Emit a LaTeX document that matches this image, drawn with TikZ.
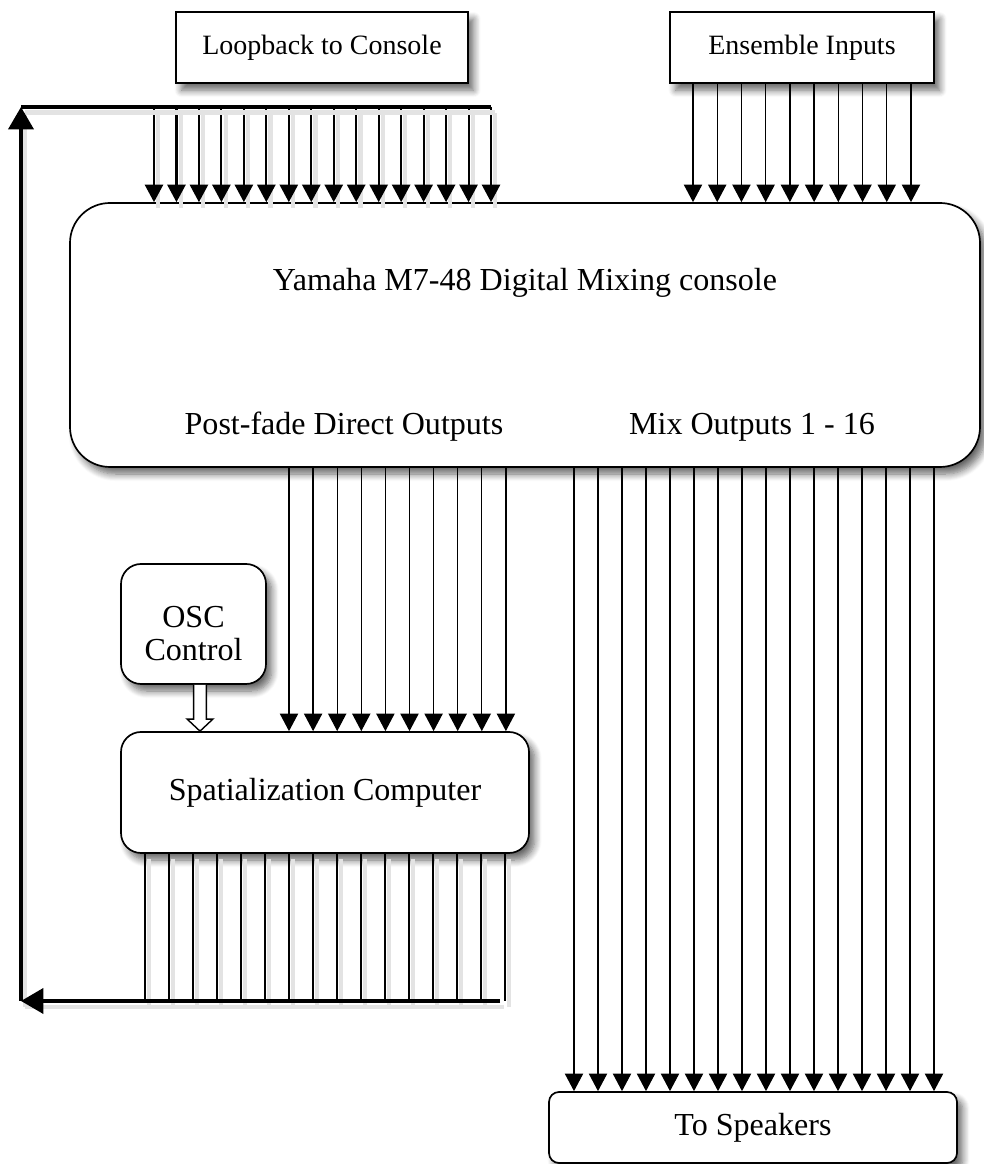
\documentclass[tikz,border=0pt]{standalone}
\usepackage{fontspec}
\setmainfont{Liberation Serif}
\usepackage{tikz}
\usetikzlibrary{arrows.meta,calc,positioning,shadows.blur}
\tikzset{
  mx diagram/.style={font=\fontsize{22.8}{23.5}\selectfont, line join=miter},
  mx box/.style={draw, fill=white, line width=1.2pt, align=center, inner sep=0pt,
    blur shadow={shadow xshift=4pt, shadow yshift=-5pt, shadow blur radius=5pt,
      shadow blur steps=8, shadow opacity=60}},
  mx small/.style={font=\fontsize{19.9}{22}\selectfont},
  mx shade/.style={preaction={draw=black!11, line width=3pt, -,
    transform canvas={xshift=3pt,yshift=-4pt}}},
  mx arrow/.style={-{Triangle[length=12.5pt,width=13pt]}, line width=0.9pt},
  mx loop arrow/.style={mx arrow, line width=1.5pt},
  mx loop line/.style={line width=1.5pt},
  mx bus/.style={line width=2.3pt},
  mx bus arrow/.style={mx bus, -{Triangle[length=16pt,width=18pt]}},
  mx hollow/.style={draw, fill=white, line width=1pt}
}
\begin{document}
\begin{tikzpicture}[mx diagram]
\useasboundingbox (0,0) rectangle (24.6,29.1);
% boxes
\node[mx box, mx small, minimum width=7.3cm, minimum height=1.775cm] (loopback) at (8.05,27.91) {Loopback to Console};
\node[mx box, mx small, minimum width=6.6cm, minimum height=1.775cm] (ensemble) at (20.05,27.91) {Ensemble Inputs};
\node[mx box, rounded corners=1cm, minimum width=22.75cm, minimum height=6.6cm] (mixer) at (13.125,20.725) {};
\node (title) at (13.125,22.025) {Yamaha M7-48 Digital Mixing console};
\node (directlbl) at (8.6,18.425) {Post-fade Direct Outputs};
\node (mixlbl) at (18.8,18.425) {Mix Outputs 1 - 16};
\node[mx box, rounded corners=0.5cm, minimum width=3.625cm, minimum height=3cm] (osc) at (4.8375,13.5) {};
\node[align=center] (osctext) at ([yshift=-0.24cm]osc.center) {OSC\\Control};
\node[mx box, rounded corners=0.5cm, minimum width=10.2cm, minimum height=3.025cm] (spat) at (8.125,9.2875) {Spatialization Computer};
\node[mx box, rounded corners=0.25cm, minimum width=10.2cm, minimum height=1.775cm] (speakers) at (18.825,0.9125) {To Speakers};
% loop back bus
\coordinate (topL) at (0.525,26.425);
\coordinate (topR) at (12.275,26.425);
\coordinate (botL) at (0.525,4.075);
\coordinate (botR) at (12.5,4.075);
\foreach \i in {0,...,15}{
  \pgfmathsetmacro\x{3.85+0.5617*\i}
  \draw[mx loop arrow, mx shade] (\x,0 |- topL) -- (\x,0 |- mixer.north);
}
\foreach \i in {0,...,15}{
  \pgfmathsetmacro\x{3.625+0.6*\i}
  \draw[mx loop line, mx shade] (\x,0 |- spat.south) -- (\x,0 |- botL);
}
\draw[mx bus, mx shade] (topL) -- (topR);
\draw[mx bus arrow, mx shade] (botL) -- (topL);
\draw[mx bus arrow, mx shade] (botR) -- (botL);
% inputs and outputs
\foreach \i in {0,...,9}{
  \pgfmathsetmacro\x{17.325+0.6055*\i}
  \draw[mx arrow] (\x,0 |- ensemble.south) -- (\x,0 |- mixer.north);
}
\foreach \i in {0,...,9}{
  \pgfmathsetmacro\x{7.225+0.6025*\i}
  \draw[mx arrow] (\x,0 |- mixer.south) -- (\x,0 |- spat.north);
}
\foreach \i in {0,...,15}{
  \pgfmathsetmacro\x{14.35+0.6*\i}
  \draw[mx arrow] (\x,0 |- mixer.south) -- (\x,0 |- speakers.north);
}
% control
\coordinate (ctl) at (5,0 |- osc.south);
\coordinate (ctlend) at (5,0 |- spat.north);
\draw[mx hollow] ([xshift=-0.16cm]ctl) -- ([xshift=-0.16cm,yshift=0.3cm]ctlend)
  -- ([xshift=-0.32cm,yshift=0.3cm]ctlend) -- (ctlend)
  -- ([xshift=0.32cm,yshift=0.3cm]ctlend) -- ([xshift=0.16cm,yshift=0.3cm]ctlend)
  -- ([xshift=0.16cm]ctl);
\end{tikzpicture}
\end{document}
